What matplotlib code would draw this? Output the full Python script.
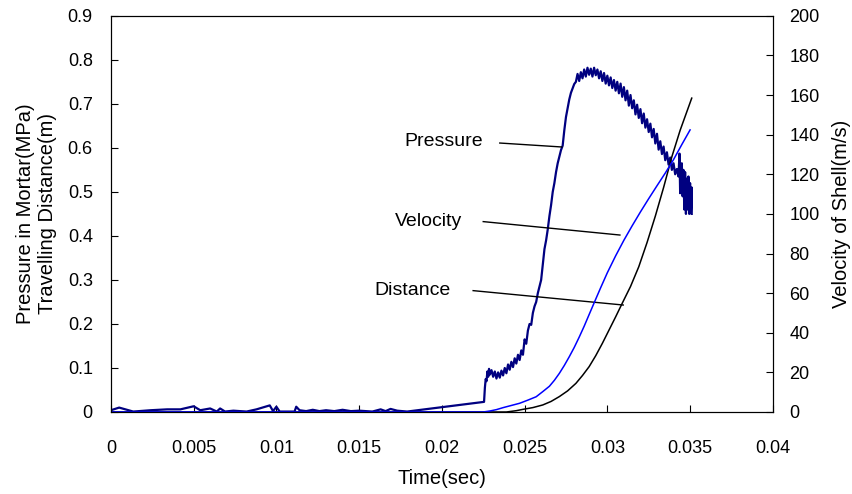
import matplotlib
matplotlib.use("Agg")
import matplotlib.pyplot as plt

plt.rcParams['font.family'] = ['Liberation Sans', 'DejaVu Sans']

# Pressure in mortar (MPa) vs time (sec)
p_time = [0.0, 0.0005, 0.00135, 0.0024, 0.0034, 0.0042, 0.0050, 0.0054, 0.0060, 0.0064,
          0.0066, 0.0069, 0.0074, 0.0082, 0.0088, 0.0096, 0.0098, 0.0100, 0.0102, 0.0111,
          0.0112, 0.0114, 0.0118, 0.0122, 0.0126, 0.0130, 0.0135, 0.0140, 0.0145, 0.0150,
          0.0158, 0.0163, 0.0166, 0.0169, 0.0173, 0.0179, 0.02250,
          0.02255, 0.0226, 0.02265, 0.0227, 0.02275, 0.0228, 0.02285, 0.0229, 0.0230, 0.0231,
          0.0232, 0.0233, 0.0234, 0.0235, 0.0236, 0.0237, 0.0238, 0.0239, 0.0240, 0.0241,
          0.0242, 0.0243, 0.0244, 0.0245, 0.0246, 0.0247, 0.0248, 0.0249, 0.0250, 0.0251,
          0.0252, 0.0253, 0.0254, 0.0255, 0.0256, 0.0257, 0.0258, 0.0259, 0.0260, 0.0261,
          0.0262, 0.0263, 0.0264, 0.0265, 0.0266, 0.0267, 0.0268, 0.0269, 0.0270, 0.0271,
          0.0272, 0.0273, 0.0274, 0.0275, 0.0276, 0.0277, 0.0278, 0.0279, 0.0280, 0.0281,
          0.0282, 0.0283, 0.0284, 0.0285, 0.0286, 0.0287, 0.0288, 0.0289, 0.0290, 0.0291,
          0.0292, 0.0293, 0.0294, 0.0295, 0.0296, 0.0297, 0.0298, 0.0299, 0.0300, 0.0301,
          0.0302, 0.0303, 0.0304, 0.0305, 0.0306, 0.0307, 0.0308, 0.0309, 0.0310, 0.0311,
          0.0312, 0.0313, 0.0314, 0.0315, 0.0316, 0.0317, 0.0318, 0.0319, 0.0320, 0.0321,
          0.0322, 0.0323, 0.0324, 0.0325, 0.0326, 0.0327, 0.0328, 0.0329, 0.0330, 0.0331,
          0.0332, 0.0333, 0.0334, 0.0335, 0.0336, 0.0337, 0.0338, 0.0339, 0.0340, 0.0341,
          0.0342, 0.0343, 0.03436, 0.0344, 0.03445, 0.0345, 0.03455, 0.0346, 0.03465, 0.0347,
          0.03475, 0.0348, 0.03485, 0.0349, 0.03495, 0.0350, 0.03505, 0.0351, 0.0351]
pressure = [0.004, 0.010, 0.001, 0.004, 0.006, 0.006, 0.013, 0.004, 0.008, 0.001,
            0.008, 0.001, 0.003, 0.001, 0.006, 0.015, 0.002, 0.012, 0.001, 0.001,
            0.012, 0.004, 0.002, 0.005, 0.002, 0.004, 0.002, 0.005, 0.002, 0.003,
            0.001, 0.006, 0.002, 0.007, 0.003, 0.001, 0.023,
            0.023, 0.055, 0.075, 0.07, 0.092, 0.08, 0.098, 0.085, 0.095, 0.08,
            0.092, 0.076, 0.09, 0.078, 0.094, 0.083, 0.10, 0.088, 0.108, 0.096,
            0.114, 0.102, 0.122, 0.11, 0.13, 0.118, 0.14, 0.13, 0.165, 0.155,
            0.185, 0.2, 0.198, 0.225, 0.24, 0.25, 0.27, 0.285, 0.30, 0.335,
            0.37, 0.39, 0.415, 0.445, 0.47, 0.50, 0.52, 0.545, 0.565, 0.58,
            0.595, 0.605, 0.64, 0.67, 0.69, 0.71, 0.725, 0.735, 0.745, 0.75,
            0.768, 0.752, 0.772, 0.758, 0.778, 0.762, 0.782, 0.766, 0.78, 0.762,
            0.782, 0.765, 0.778, 0.758, 0.774, 0.752, 0.77, 0.746, 0.764, 0.742,
            0.76, 0.736, 0.754, 0.73, 0.75, 0.724, 0.746, 0.716, 0.738, 0.708,
            0.73, 0.696, 0.72, 0.69, 0.708, 0.676, 0.698, 0.668, 0.688, 0.656,
            0.678, 0.646, 0.665, 0.636, 0.655, 0.624, 0.643, 0.61, 0.632, 0.596,
            0.615, 0.586, 0.603, 0.572, 0.59, 0.562, 0.578, 0.55, 0.565, 0.54,
            0.552, 0.535, 0.587, 0.497, 0.54, 0.565, 0.49, 0.55, 0.46, 0.545,
            0.45, 0.53, 0.46, 0.535, 0.45, 0.52, 0.455, 0.51, 0.45]

# Velocity of shell (m/s)
v_time = [0.0, 0.0225, 0.0229, 0.0233, 0.0237, 0.0242, 0.0247, 0.0252, 0.0257, 0.0261,
          0.0265, 0.0268, 0.0271, 0.0274, 0.0277, 0.0280, 0.0283, 0.0286, 0.0289, 0.0293,
          0.0296, 0.0300, 0.0305, 0.0310, 0.0315, 0.0320, 0.0325, 0.0330, 0.0335, 0.0340,
          0.0345, 0.0350]
velocity = [0.0, 0.0, 0.5, 1.2, 2.2, 3.3, 4.4, 6.0, 7.7, 10.3,
            13.0, 16.0, 19.5, 23.5, 27.9, 32.6, 37.8, 43.3, 49.2, 57.0,
            62.8, 70.3, 78.8, 86.7, 94.0, 101.0, 107.7, 114.2, 120.6, 127.4,
            135.0, 142.4]

# Travelling distance (m)
d_time = [0.0, 0.0239, 0.0245, 0.0249, 0.0255, 0.0261, 0.0266, 0.0271, 0.0276, 0.0281,
          0.0285, 0.0289, 0.0293, 0.0297, 0.0301, 0.0305, 0.0309, 0.0314, 0.0319, 0.0324,
          0.0329, 0.0334, 0.0339, 0.0344, 0.0351]
distance = [0.0, 0.0, 0.003, 0.006, 0.010, 0.016, 0.024, 0.035, 0.048, 0.065,
            0.083, 0.103, 0.128, 0.156, 0.186, 0.216, 0.247, 0.285, 0.33, 0.385,
            0.445, 0.51, 0.58, 0.64, 0.713]

x_ticks = [0, 0.005, 0.01, 0.015, 0.02, 0.025, 0.03, 0.035, 0.04]
x_labels = ['0', '0.005', '0.01', '0.015', '0.02', '0.025', '0.03', '0.035', '0.04']
y_ticks = [0, 0.1, 0.2, 0.3, 0.4, 0.5, 0.6, 0.7, 0.8, 0.9]
y_labels = ['0', '0.1', '0.2', '0.3', '0.4', '0.5', '0.6', '0.7', '0.8', '0.9']
v_ticks = [0, 20, 40, 60, 80, 100, 120, 140, 160, 180, 200]

fig = plt.figure(figsize=(8.53, 4.94), dpi=100)
ax = fig.add_axes([0.130, 0.166, 0.776, 0.802])
ax2 = ax.twinx()

ax.plot(p_time, pressure, color='#000080', linewidth=1.6)
ax.plot(d_time, distance, color='black', linewidth=1.1)
ax2.plot(v_time, velocity, color='#0000ff', linewidth=1.1)

ax.set_xlim(0, 0.04)
ax.set_ylim(0, 0.9)
ax2.set_ylim(0, 200)
ax.set_xticks(x_ticks)
ax.set_xticklabels(x_labels)
ax.set_yticks(y_ticks)
ax.set_yticklabels(y_labels)
ax2.set_yticks(v_ticks)

ax.tick_params(axis='x', direction='in', labelsize=13, length=5, pad=20)
ax.tick_params(axis='y', direction='in', labelsize=13, length=5, pad=13)
ax2.tick_params(axis='y', direction='in', labelsize=13, length=5, pad=12)

ax.set_xlabel('Time(sec)', fontsize=14.5, va='center')
ax.xaxis.set_label_coords(0.5, -0.167)
ax.set_ylabel('Pressure in Mortar(MPa)\nTravelling Distance(m)', fontsize=14.5,
              va='center', linespacing=1.2)
ax.yaxis.set_label_coords(-0.112, 0.5)
ax2.set_ylabel('Velocity of Shell(m/s)', fontsize=14.5, va='center')
ax2.yaxis.set_label_coords(1.104, 0.5)

# annotations with leader lines
ax.text(0.01776, 0.614, 'Pressure', fontsize=14, va='center')
ax.plot([0.0235, 0.02725], [0.611, 0.602], color='black', linewidth=1)
ax.text(0.01716, 0.432, 'Velocity', fontsize=14, va='center')
ax.plot([0.0225, 0.03076], [0.4325, 0.402], color='black', linewidth=1)
ax.text(0.01595, 0.275, 'Distance', fontsize=14, va='center')
ax.plot([0.02189, 0.03096], [0.2757, 0.243], color='black', linewidth=1)

fig.savefig('out.png', dpi=100)
